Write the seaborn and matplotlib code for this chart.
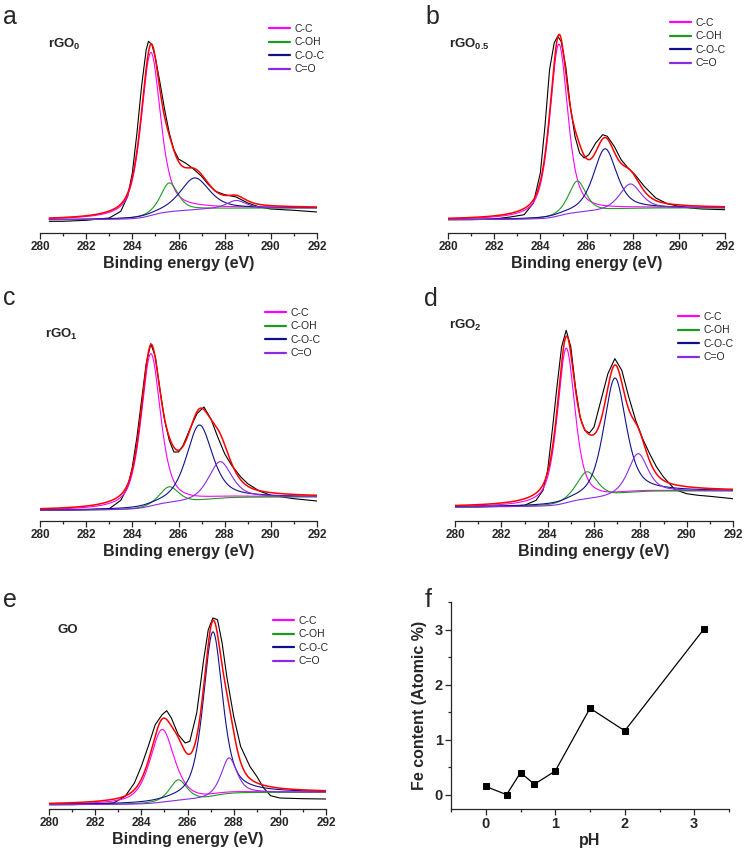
import numpy as np
import matplotlib
matplotlib.use('Agg')
import matplotlib.pyplot as plt
from matplotlib.ticker import MultipleLocator
import seaborn as sns

# component names / colours of the C1s fits
components = ['C-C', 'C-OH', 'C-O-C', 'C=O']
comp_colors = ['#ff00ff', '#1f9a1f', '#10108a', '#8a2be2']

# fitted peaks: centre (eV), height above background, FWHM (eV)
centers_rgo0 = [284.8, 285.6, 286.7, 288.5]
heights_rgo0 = [163, 29, 32, 8]
fwhm_rgo0 = [1.0, 0.9, 1.5, 1.0]
bg_rgo0 = [13.3, 25.0]

centers_rgo05 = [284.8, 285.6, 286.8, 287.9]
heights_rgo05 = [172, 32, 62, 25]
fwhm_rgo05 = [0.92, 0.9, 1.2, 1.1]
bg_rgo05 = [13.3, 25.0]

centers_rgo1 = [284.8, 285.6, 286.9, 287.8]
heights_rgo1 = [153, 17, 76, 37]
fwhm_rgo1 = [1.0, 1.0, 1.35, 1.2]
bg_rgo1 = [10.7, 24.0]

centers_rgo2 = [284.8, 285.7, 286.9, 287.9]
heights_rgo2 = [155, 28, 118, 39]
fwhm_rgo2 = [0.9, 1.1, 1.15, 1.0]
bg_rgo2 = [14.0, 30.0]

centers_go = [284.9, 285.6, 287.1, 287.8]
heights_go = [73, 21, 165, 36]
fwhm_go = [1.25, 0.9, 1.0, 0.8]
bg_go = [4.3, 16.7]

# raw spectra (black)
be_rgo0 = [280.4, 281, 282, 283, 283.5, 283.8, 284.0, 284.2, 284.4, 284.6, 284.7, 284.85, 285.0, 285.2, 285.4,
           285.6, 285.8, 286.0, 286.3, 286.6, 287.0, 287.3, 287.6, 288.0, 288.5, 289.0, 289.5, 290.0, 291.0, 292.0]
raw_rgo0 = [11.7, 11.7, 12.7, 15, 21.7, 36.7, 60, 100, 146.7, 183.3, 191.7, 188.3, 175, 150, 123.3,
            100, 83.3, 74, 70, 65, 56.7, 48.3, 41.7, 38.3, 36, 30, 26, 24, 22.7, 21]

be_rgo05 = [280, 281, 282, 282.7, 283.3, 283.7, 284.0, 284.2, 284.4, 284.6, 284.75, 284.9, 285.1, 285.3, 285.5, 285.7,
            285.9, 286.1, 286.4, 286.7, 286.9, 287.2, 287.5, 287.8, 288.1, 288.5, 289.0, 289.5, 290.0, 290.5, 291.0, 292.0]
raw_rgo05 = [13.3, 13.3, 14, 16, 18.3, 30, 60, 106.7, 163.3, 190, 196.7, 191.7, 166.7, 126.7, 96.7, 80,
             75, 78.3, 90, 98.3, 96.7, 86.7, 73.3, 65, 58.3, 46.7, 35, 29.3, 26.7, 25, 24, 23.3]

be_rgo1 = [280, 281, 282, 283, 283.5, 283.8, 284.0, 284.2, 284.4, 284.6, 284.8, 285.0, 285.2, 285.4, 285.6, 285.8,
           286.0, 286.2, 286.5, 286.8, 287.1, 287.4, 287.7, 288.0, 288.3, 288.7, 289.0, 289.5, 290.0, 290.5, 291.0, 292.0]
raw_rgo1 = [10.7, 10.7, 11.3, 12.3, 20.7, 34, 54, 84, 120.7, 157.3, 177.3, 164, 130.7, 100.7, 80.7, 69,
            69, 75.7, 92.3, 107.3, 114, 102.3, 84, 67.3, 55.7, 44, 37.3, 30, 25.7, 24, 22.3, 20]

be_rgo2 = [280, 281, 282, 283, 283.5, 283.8, 284.0, 284.2, 284.4, 284.6, 284.8, 285.0, 285.2, 285.4, 285.6, 285.8,
           286.0, 286.3, 286.6, 286.9, 287.2, 287.5, 287.8, 288.1, 288.4, 288.7, 289.0, 289.5, 290.0, 290.5, 291.0, 292.0]
raw_rgo2 = [14, 14, 14.7, 15.7, 20.7, 30.7, 50.7, 90.7, 134, 174, 190.7, 174, 134, 104, 90.7, 88,
            94, 120.7, 147.3, 162.3, 150.7, 124, 100.7, 82.3, 67.3, 54, 44, 31.3, 27.3, 25.7, 24.7, 22.3]

be_go = [280, 281, 282, 282.8, 283.3, 283.7, 284.0, 284.3, 284.6, 284.9, 285.1, 285.3, 285.6, 285.9, 286.1, 286.4,
         286.7, 286.9, 287.1, 287.3, 287.5, 287.7, 288.0, 288.3, 288.7, 289.0, 289.3, 289.6, 290.0, 291.0, 292.0]
raw_go = [4.3, 4.3, 5, 6, 12.7, 26, 42.7, 62.7, 84.3, 94.3, 98.3, 91, 74.3, 66, 67.7, 96,
          149.3, 179.3, 191, 189.3, 166, 132.7, 92.7, 62.7, 42.7, 32.7, 21, 13.3, 11, 10.3, 10]

# Fe content vs pH
ph = [0, 0.3, 0.5, 0.7, 1.0, 1.5, 2.0, 3.14]
fe_content = [0.15, 0.0, 0.4, 0.19, 0.43, 1.57, 1.16, 3.01]

W, H = 745, 849

sns.set_theme(style='ticks')
plt.rcParams['font.family'] = ['Liberation Sans', 'DejaVu Sans']
plt.rcParams['mathtext.fontset'] = 'custom'
plt.rcParams['mathtext.bf'] = 'Liberation Sans:bold'
plt.rcParams['mathtext.rm'] = 'Liberation Sans'
plt.rcParams['axes.linewidth'] = 0.9

fig = plt.figure(figsize=(W / 100, H / 100), dpi=100)


def px_axes(left, right, bottom, top):
    # axes placed by pixel edges of the reference
    return fig.add_axes([left / W, 1 - bottom / H, (right - left) / W, (bottom - top) / H])


def pvoigt(x, c, h, w, eta=0.6):
    g = np.exp(-4 * np.log(2) * ((x - c) / w) ** 2)
    l = 1 / (1 + 4 * ((x - c) / w) ** 2)
    return h * (eta * l + (1 - eta) * g)


def xps_panel(ax, be, raw, centers, heights, fwhm, bg, legend_xy):
    x = np.linspace(be[0], 292, 700)
    peaks = [pvoigt(x, c, h, w) for c, h, w in zip(centers, heights, fwhm)]
    total = np.sum(peaks, axis=0)
    # Shirley type step background
    cum = np.cumsum(total)
    back = bg[0] + (bg[1] - bg[0]) * cum / cum[-1]

    sns.lineplot(x=be, y=raw, ax=ax, color='black', linewidth=0.8, sort=False)
    for name, col, p in zip(components, comp_colors, peaks):
        sns.lineplot(x=x, y=back + p, ax=ax, color=col, linewidth=0.8, label=name)
    sns.lineplot(x=x, y=back + total, ax=ax, color='#ff0000', linewidth=1.1)

    ax.set_xlim(280, 292)
    ax.set_ylim(0, 215)
    ax.set_yticks([])
    ax.set_ylabel('')
    for s in ['left', 'top', 'right']:
        ax.spines[s].set_visible(False)
    ax.xaxis.set_major_locator(MultipleLocator(2))
    ax.xaxis.set_minor_locator(MultipleLocator(1))
    ax.tick_params(axis='x', which='major', direction='out', length=4, width=0.9, labelsize=8.5, pad=2)
    ax.tick_params(axis='x', which='minor', direction='out', length=2.2, width=0.9)
    for t in ax.get_xticklabels():
        t.set_fontweight('bold')
    ax.set_xlabel('Binding energy (eV)', fontsize=11.5, fontweight='bold', labelpad=2)
    leg = ax.legend(loc='upper left', bbox_to_anchor=(legend_xy[0] / W, 1 - legend_xy[1] / H),
                    bbox_transform=fig.transFigure, frameon=False, fontsize=7.5, borderpad=0,
                    borderaxespad=0, handlelength=2.0, handletextpad=0.45, labelspacing=0.33)
    for hl in leg.legend_handles:
        hl.set_linewidth(1.6)


ax_a = px_axes(40, 317, 233, 18)
xps_panel(ax_a, be_rgo0, raw_rgo0, centers_rgo0, heights_rgo0, fwhm_rgo0, bg_rgo0, (269, 24))
ax_b = px_axes(448, 725, 233, 18)
xps_panel(ax_b, be_rgo05, raw_rgo05, centers_rgo05, heights_rgo05, fwhm_rgo05, bg_rgo05, (670, 18))
ax_c = px_axes(40, 317, 521, 306)
xps_panel(ax_c, be_rgo1, raw_rgo1, centers_rgo1, heights_rgo1, fwhm_rgo1, bg_rgo1, (265, 308))
ax_d = px_axes(455, 733, 521, 306)
xps_panel(ax_d, be_rgo2, raw_rgo2, centers_rgo2, heights_rgo2, fwhm_rgo2, bg_rgo2, (678, 312))
ax_e = px_axes(49, 326, 809, 594)
xps_panel(ax_e, be_go, raw_go, centers_go, heights_go, fwhm_go, bg_go, (273, 616))

# panel f
ax_f = px_axes(451, 729, 809, 602)
sns.lineplot(x=ph, y=fe_content, ax=ax_f, color='black', marker='s', markersize=4.6,
             markeredgecolor='black', linewidth=0.9, sort=False)
ax_f.set_xlim(-0.5, 3.5)
ax_f.set_ylim(-0.26, 3.5)
for s in ['top', 'right']:
    ax_f.spines[s].set_visible(False)
ax_f.xaxis.set_major_locator(MultipleLocator(1))
ax_f.xaxis.set_minor_locator(MultipleLocator(0.5))
ax_f.yaxis.set_major_locator(MultipleLocator(1))
ax_f.yaxis.set_minor_locator(MultipleLocator(0.5))
ax_f.tick_params(which='major', direction='out', length=4, width=0.9, labelsize=10.5, pad=2)
ax_f.tick_params(which='minor', direction='out', length=2.2, width=0.9)
for t in ax_f.get_xticklabels() + ax_f.get_yticklabels():
    t.set_fontweight('bold')
ax_f.set_xlabel('pH', fontsize=11.5, fontweight='bold', labelpad=1)
ax_f.set_ylabel('Fe content (Atomic %)', fontsize=11.5, fontweight='bold', labelpad=5)

# panel letters and sample names
letters = ['a', 'b', 'c', 'd', 'e', 'f']
letter_xy = [(3, 24), (425, 24), (3, 305), (424, 306), (3, 607), (425, 607)]
for lt, (lx, ly) in zip(letters, letter_xy):
    fig.text(lx / W, 1 - ly / H, lt, fontsize=18, va='baseline', ha='left')

sample_labels = [r'rGO$_\mathbf{0}$', r'rGO$_\mathbf{0.5}$', r'rGO$_\mathbf{1}$', r'rGO$_\mathbf{2}$', 'GO']
sample_xy = [(48, 48), (449, 48), (45, 338), (449, 329), (57, 633)]
for sl, (sx, sy) in zip(sample_labels, sample_xy):
    fig.text(sx / W, 1 - sy / H, sl, fontsize=9.5, fontweight='bold', va='baseline', ha='left')

fig.savefig('out.png', dpi=100)
